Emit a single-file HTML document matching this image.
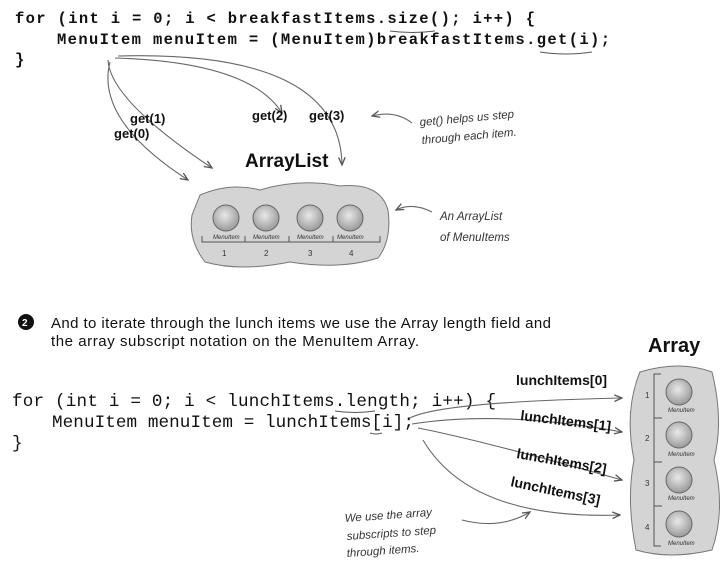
<!DOCTYPE html>
<html><head><meta charset="utf-8"><style>
html,body{margin:0;padding:0;background:#fff;}
svg{display:block}
.c1{font-family:"Liberation Mono",monospace;font-weight:bold;font-size:15.5px;fill:#111}
.c2{font-family:"Liberation Mono",monospace;font-size:17.6px;fill:#111}
.lb{font-family:"Liberation Sans",sans-serif;font-weight:bold;font-size:13px;fill:#111}
.hw{font-family:"Liberation Sans",sans-serif;font-size:11.5px;fill:#333;font-style:italic}
.tx{font-family:"Liberation Sans",sans-serif;font-size:15px;fill:#111}
.mi{font-family:"Liberation Sans",sans-serif;font-size:6px;fill:#333;font-style:italic}
</style></head><body>
<svg width="728" height="561" viewBox="0 0 728 561">
<defs>
<marker id="ah" markerWidth="8" markerHeight="8" refX="7" refY="4" orient="auto"><path d="M0,1 L7,4 L0,7" fill="none" stroke="#555" stroke-width="1.2"/></marker>
<radialGradient id="bg" cx="45%" cy="40%" r="60%"><stop offset="0" stop-color="#e8e8e8"/><stop offset="1" stop-color="#9a9a9a"/></radialGradient>
</defs>
<text class="c1" x="15" y="23" textLength="520" lengthAdjust="spacing">for (int i = 0; i &lt; breakfastItems.size(); i++) {</text>
<text class="c1" x="57" y="44" textLength="553" lengthAdjust="spacing">MenuItem menuItem = (MenuItem)breakfastItems.get(i);</text>
<text class="c1" x="15" y="64">}</text>
<path d="M390,31 q22,3 45,0 M540,52 q26,4 52,0" stroke="#555" fill="none"/>
<g stroke="#666" fill="none" stroke-width="1.1" marker-end="url(#ah)">
<path d="M110,62 Q95,120 188,180"/>
<path d="M108,60 Q110,100 212,168"/>
<path d="M115,58 Q250,62 282,113"/>
<path d="M118,56 Q340,50 342,165"/>
<path d="M412,123 Q395,110 372,116"/>
<path d="M432,212 Q412,202 396,210"/>
</g>
<text class="lb" x="130" y="123">get(1)</text>
<text class="lb" x="114" y="138">get(0)</text>
<text class="lb" x="252" y="120">get(2)</text>
<text class="lb" x="309" y="120">get(3)</text>
<text x="245" y="167" style="font-family:'Liberation Sans',sans-serif;font-weight:bold;font-size:19px;fill:#111">ArrayList</text>
<text class="hw" x="420" y="126" transform="rotate(-5 420 126)">get() helps us step</text>
<text class="hw" x="422" y="144" transform="rotate(-5 422 144)">through each item.</text>
<text class="hw" x="440" y="220">An ArrayList</text>
<text class="hw" x="440" y="241">of MenuItems</text>
<path d="M200,195 Q230,182 260,190 Q300,178 340,186 Q380,182 388,210 Q392,240 378,258 Q340,270 290,262 Q240,272 205,262 Q188,240 192,215 Z" fill="#d4d4d4" stroke="#777"/>
<g stroke="#666" fill="url(#bg)"><circle cx="226" cy="218" r="13"/><circle cx="266" cy="218" r="13"/><circle cx="310" cy="218" r="13"/><circle cx="350" cy="218" r="13"/></g>
<path d="M202,236 V242 H380 V236 M245,236 V242 M289,236 V242 M333,236 V242" stroke="#555" fill="none"/>
<g class="mi"><text x="213" y="239">MenuItem</text><text x="253" y="239">MenuItem</text><text x="297" y="239">MenuItem</text><text x="337" y="239">MenuItem</text></g>
<g style="font-family:'Liberation Sans',sans-serif;font-size:8px;fill:#333"><text x="222" y="256">1</text><text x="264" y="256">2</text><text x="308" y="256">3</text><text x="349" y="256">4</text></g>
<circle cx="26" cy="322" r="8" fill="#111"/><text x="22" y="326" style="font-family:'Liberation Sans',sans-serif;font-weight:bold;font-size:10px;fill:#fff">2</text>
<text class="tx" x="51" y="328" textLength="500" lengthAdjust="spacing">And to iterate through the lunch items we use the Array length field and</text>
<text class="tx" x="51" y="346" textLength="368" lengthAdjust="spacing">the array subscript notation on the MenuItem Array.</text>
<text x="648" y="352" style="font-family:'Liberation Sans',sans-serif;font-weight:bold;font-size:20px;fill:#111">Array</text>
<path d="M640,372 Q680,360 712,372 Q724,420 714,460 Q726,510 712,550 Q670,560 636,550 Q626,500 634,460 Q624,410 640,372 Z" fill="#d4d4d4" stroke="#777"/>
<path d="M661,374 H654 V546 H661 M654,418 H662 M654,462 H662 M654,506 H662" stroke="#555" fill="none"/>
<g stroke="#666" fill="url(#bg)"><circle cx="679" cy="392" r="13"/><circle cx="679" cy="435" r="13"/><circle cx="679" cy="480" r="13"/><circle cx="679" cy="524" r="13"/></g>
<g class="mi"><text x="668" y="412">MenuItem</text><text x="668" y="456">MenuItem</text><text x="668" y="500">MenuItem</text><text x="668" y="545">MenuItem</text></g>
<g style="font-family:'Liberation Sans',sans-serif;font-size:8px;fill:#333"><text x="645" y="398">1</text><text x="645" y="441">2</text><text x="645" y="486">3</text><text x="645" y="530">4</text></g>
<text class="c2" x="12" y="406" textLength="484" lengthAdjust="spacing">for (int i = 0; i &lt; lunchItems.length; i++) {</text>
<text class="c2" x="52" y="427" textLength="362" lengthAdjust="spacing">MenuItem menuItem = lunchItems[i];</text>
<text class="c2" x="12" y="448">}</text>
<path d="M335,411 q20,3 40,0 M370,433 q6,2 12,0" stroke="#555" fill="none"/>
<g stroke="#666" fill="none" stroke-width="1.1" marker-end="url(#ah)">
<path d="M410,418 Q440,402 622,398"/>
<path d="M412,424 Q500,410 622,432"/>
<path d="M418,428 Q480,440 622,480"/>
<path d="M423,440 Q470,520 620,515"/>
<path d="M462,520 Q500,530 530,512"/>
</g>
<g class="lb" style="font-size:14px">
<text x="516" y="385">lunchItems[0]</text>
<text x="520" y="420" transform="rotate(7 520 420)">lunchItems[1]</text>
<text x="516" y="458" transform="rotate(10 516 458)">lunchItems[2]</text>
<text x="510" y="486" transform="rotate(12 510 486)">lunchItems[3]</text>
</g>
<text class="hw" x="345" y="522" transform="rotate(-4 345 522)">We use the array</text>
<text class="hw" x="347" y="540" transform="rotate(-4 347 540)">subscripts to step</text>
<text class="hw" x="347" y="557" transform="rotate(-4 347 557)">through items.</text>
</svg>
</body></html>
